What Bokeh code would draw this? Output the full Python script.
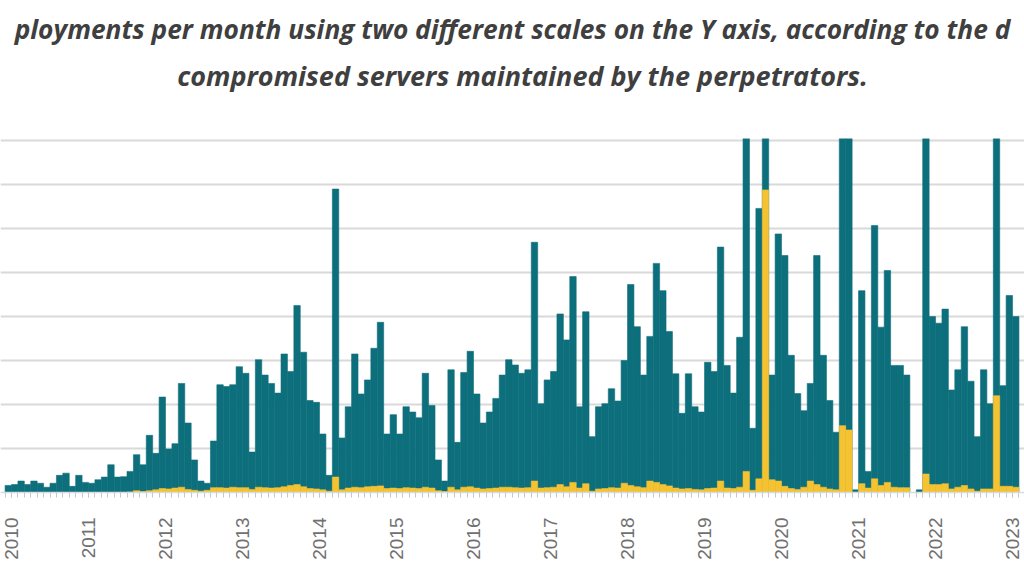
import math
from bokeh.plotting import figure
from bokeh.layouts import column
from bokeh.models import ColumnDataSource, FixedTicker, Range1d
from bokeh.core.properties import value
from bokeh.embed import file_html
from bokeh.resources import INLINE

# ---------------- data ----------------
title_line1 = "ployments per month using two different scales on the Y axis, according to the d"
title_line2 = "compromised servers maintained by the perpetrators."

year_labels = [str(y) for y in range(2010, 2024)]
first_month_offset = -1   # first value is Dec 2009 (months counted from Jan 2010)

# teal series (left scale), one value per month, Dec 2009 .. Jan 2023
teal = [
    1.6,
    1.8, 2.6, 1.8, 2.6, 2.1, 1.2, 2.1, 3.9, 4.4, 1.4, 3.9, 2.3,          # 2010
    2.1, 2.9, 3.5, 6.3, 3.5, 3.6, 4.8, 8.6, 6.3, 13.0, 8.9, 21.7,        # 2011
    9.9, 11.1, 24.8, 15.8, 7.4, 2.6, 2.1, 11.7, 24.5, 24.1, 24.5, 28.6,  # 2012
    27.1, 9.2, 30.2, 26.7, 24.8, 22.6, 31.5, 27.5, 42.5, 31.9, 20.9, 20.5,  # 2013
    13.3, 3.9, 69.0, 12.4, 19.5, 31.5, 22.4, 25.6, 32.8, 38.7, 13.3, 17.7,  # 2014
    13.3, 19.5, 18.3, 17.0, 27.1, 19.8, 7.4, 2.6, 27.9, 11.4, 27.3, 32.1,   # 2015
    22.4, 15.8, 18.3, 21.4, 26.7, 30.2, 29.0, 27.1, 27.9, 56.9, 20.2, 25.6, # 2016
    27.5, 40.6, 34.7, 49.1, 19.5, 41.1, 12.7, 19.5, 20.2, 23.6, 20.8, 30.0, # 2017
    47.3, 37.7, 26.7, 35.5, 52.1, 45.9, 36.6, 27.0, 18.0, 27.0, 19.5, 18.3, # 2018
    29.6, 27.5, 55.8, 28.9, 22.6, 35.3, 95.0, 14.6, 64.6, 110.0, 26.7, 58.8, # 2019
    53.9, 31.2, 22.5, 18.6, 24.8, 53.9, 31.2, 20.9, 13.7, 120.0, 105.0, 0.6, # 2020
    45.9, 4.8, 60.7, 37.6, 50.5, 28.9, 28.9, 26.7, 0.0, 0.6, 100.0, 40.0,   # 2021
    38.5, 41.7, 23.3, 27.9, 37.7, 25.3, 12.7, 27.9, 20.2, 98.0, 24.3, 44.8, # 2022
    40.0,                                                                   # 2023
]

# yellow series (second scale), same months
yellow = [
    0.0,
    0.0, 0.0, 0.0, 0.0, 0.0, 0.0, 0.0, 0.0, 0.0, 0.0, 0.0, 0.0,          # 2010
    0.0, 0.0, 0.0, 0.0, 0.0, 0.0, 0.1, 0.4, 0.2, 0.4, 0.6, 0.9,          # 2011
    0.8, 1.0, 1.2, 0.7, 0.5, 0.3, 0.5, 1.1, 1.1, 1.0, 1.2, 1.1,          # 2012
    1.1, 0.7, 1.2, 1.1, 1.0, 1.1, 1.3, 1.6, 1.8, 1.3, 0.9, 0.8,          # 2013
    0.6, 0.3, 3.5, 0.6, 1.0, 1.2, 1.1, 1.3, 1.4, 1.5, 0.9, 1.0,          # 2014
    0.9, 1.1, 1.0, 0.9, 1.2, 1.0, 0.4, 0.2, 1.2, 0.6, 1.2, 1.3,          # 2015
    1.0, 0.8, 0.9, 1.0, 1.2, 1.2, 1.1, 1.0, 1.1, 2.6, 1.0, 1.1,          # 2016
    1.2, 1.8, 1.3, 2.3, 1.0, 2.0, 0.3, 0.8, 0.9, 1.1, 1.0, 2.1,          # 2017
    1.6, 1.3, 1.1, 2.6, 2.3, 1.8, 1.5, 1.0, 0.8, 0.9, 0.7, 0.6,          # 2018
    0.9, 1.0, 2.6, 1.0, 0.9, 1.2, 4.8, 0.5, 3.1, 68.8, 2.9, 2.6,         # 2019
    1.4, 0.9, 0.7, 1.2, 2.6, 1.8, 1.2, 0.8, 0.6, 15.2, 14.2, 0.0,        # 2020
    2.0, 1.0, 3.1, 1.6, 2.3, 1.2, 1.1, 1.1, 0.0, 0.0, 4.2, 1.8,          # 2021
    1.8, 2.0, 0.8, 1.2, 1.6, 0.8, 0.3, 0.8, 0.8, 22.0, 1.4, 1.4,         # 2022
    1.2,                                                                  # 2023
]

grid_values = [10, 20, 30, 40, 50, 60, 70, 80]

# ---------------- styles ----------------
TEAL = "#0e6f7c"
YELLOW = "#f5c232"
GRID = "#d9d9d9"
TITLE_COLOR = "#3f3f3f"
LABEL_COLOR = "#707070"
W = 1024
TITLE_H = 138

# ---------------- title strip ----------------
t = figure(width=W, height=TITLE_H, x_range=Range1d(0, W), y_range=Range1d(TITLE_H, 0),
           x_axis_location=None, y_axis_location=None,
           output_backend="svg", toolbar_location=None,
           min_border=0)
t.outline_line_color = None
t.grid.visible = False
title_style = dict(text_align="center", text_baseline="alphabetic",
                   text_font=value("Open Sans"), text_font_style="bold italic",
                   text_color=TITLE_COLOR)
t.text(x=[512], y=[28], text=[title_line1], text_font_size="26.3px", **title_style)
t.text(x=[522], y=[75], text=[title_line2], text_font_size="27px", **title_style)

# ---------------- bar chart ----------------
month_pos = [first_month_offset + k + 0.5 for k in range(len(teal))]
src = ColumnDataSource(dict(x=month_pos, teal=teal, yellow=yellow))

PX_PER_MONTH = 6.417
X0 = -11.0 / PX_PER_MONTH
p = figure(
    frame_width=W, frame_height=354,
    x_range=Range1d(X0, X0 + W / PX_PER_MONTH), y_range=Range1d(0, 80.5),
    y_axis_location=None,
    output_backend="svg", toolbar_location=None,
    min_border_left=0, min_border_right=0,
    min_border_top=0, min_border_bottom=92,
)
p.outline_line_color = None

p.vbar(x="x", top="teal", width=1.0, source=src,
       fill_color=TEAL, line_color=TEAL, line_width=0.6)
p.vbar(x="x", top="yellow", width=1.0, source=src,
       fill_color=YELLOW, line_color=YELLOW, line_width=0.6)

p.xgrid.visible = False
p.ygrid.ticker = FixedTicker(ticks=grid_values)
p.ygrid.grid_line_color = GRID
p.ygrid.grid_line_width = 2

year_ticks = [12 * k for k in range(len(year_labels))]
month_ticks = list(range(-1, 158))
xa = p.xaxis[0]
xa.ticker = FixedTicker(ticks=year_ticks, minor_ticks=month_ticks)
xa.major_label_overrides = {tk: lab for tk, lab in zip(year_ticks, year_labels)}
xa.major_label_orientation = math.pi / 2
xa.major_label_text_font = "Liberation Sans"
xa.major_label_text_font_size = "19px"
xa.major_label_text_color = LABEL_COLOR
xa.major_label_standoff = 20
xa.axis_line_color = "#d5dde0"
xa.axis_line_width = 1.5
xa.major_tick_line_color = "#c8c8c8"
xa.minor_tick_line_color = "#c8c8c8"
xa.major_tick_in = 0
xa.major_tick_out = 5
xa.minor_tick_in = 0
xa.minor_tick_out = 5

layout = column(t, p, spacing=0)
open("out.html", "w").write(file_html(layout, INLINE))
